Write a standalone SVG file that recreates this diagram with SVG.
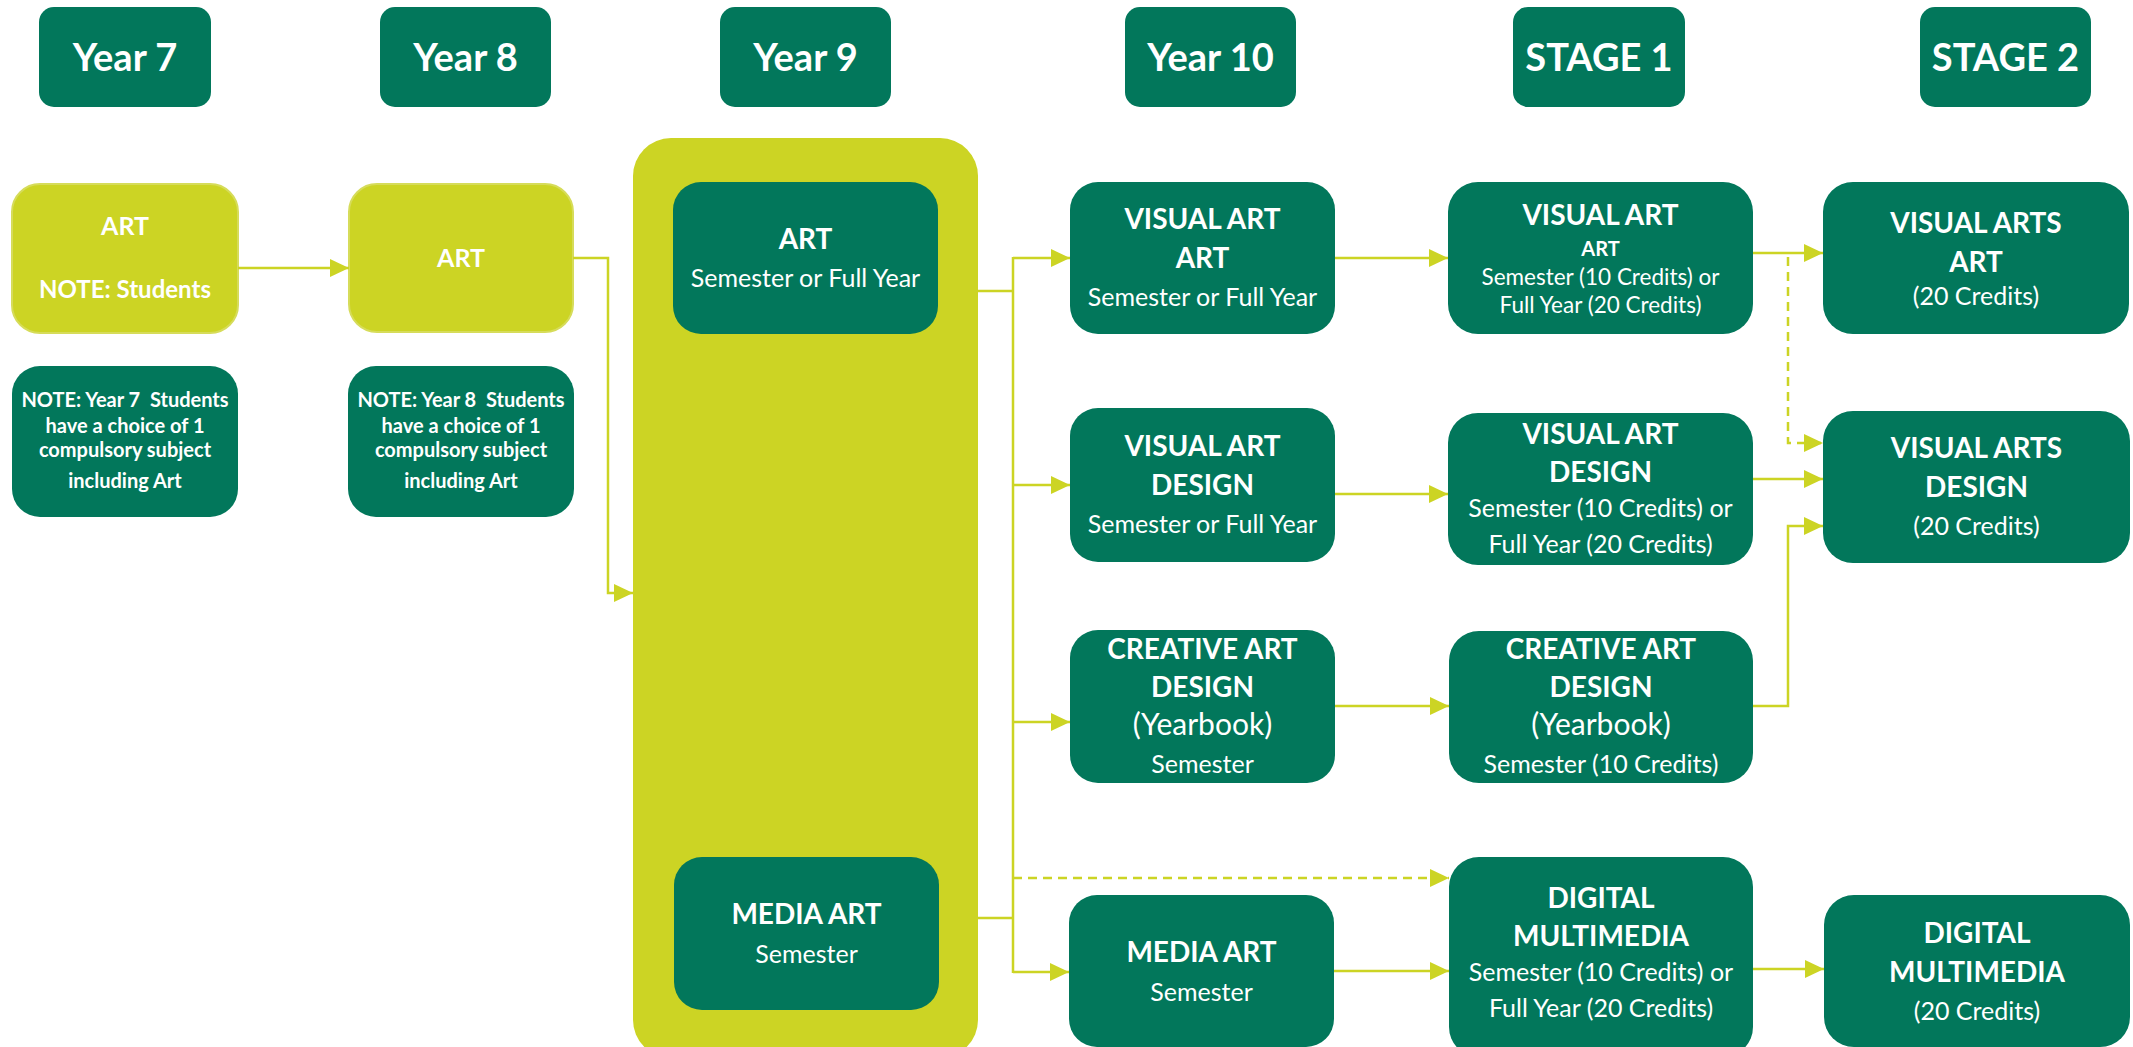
<svg xmlns="http://www.w3.org/2000/svg" width="2133" height="1047" viewBox="0 0 2133 1047">
<defs>
<style>
.g{fill:#02775B}
.l{fill:#CCD424}
.lb{fill:#CCD424;stroke:#D6DC5A;stroke-width:2}
text{font-family:Lato,"Open Sans","Liberation Sans",sans-serif;fill:#FFFFFF;text-anchor:middle}
.h{font-size:38px;font-weight:bold}
.t{font-size:28px;font-weight:bold}
.s{font-size:25px}
.n{font-size:20px;font-weight:bold;white-space:pre}
.c{fill:none;stroke:#CCD424;stroke-width:2.5}
.d{stroke-dasharray:9 6}
</style>
<marker id="a" markerUnits="userSpaceOnUse" markerWidth="20" markerHeight="18" refX="19" refY="9" orient="auto">
<path d="M0,0 L19,9 L0,18 Z" fill="#CCD424"/>
</marker>
</defs>
<rect width="2133" height="1047" fill="#FFFFFF"/>

<g id="headers">
<g id="h-year7"><rect class="g" x="39" y="7" width="172" height="100" rx="15"/><text class="h" x="125" y="71">Year 7</text></g>
<g id="h-year8"><rect class="g" x="380" y="7" width="171" height="100" rx="15"/><text class="h" x="465.5" y="71">Year 8</text></g>
<g id="h-year9"><rect class="g" x="720" y="7" width="171" height="100" rx="15"/><text class="h" x="805.5" y="71">Year 9</text></g>
<g id="h-year10"><rect class="g" x="1125" y="7" width="171" height="100" rx="15"/><text class="h" x="1210.5" y="71">Year 10</text></g>
<g id="h-stage1"><rect class="g" x="1513" y="7" width="172" height="100" rx="15"/><text class="h" x="1599" y="71">STAGE 1</text></g>
<g id="h-stage2"><rect class="g" x="1920" y="7" width="171" height="100" rx="15"/><text class="h" x="2005.5" y="71">STAGE 2</text></g>
</g>

<g id="y7-art"><rect class="lb" x="12" y="184" width="226" height="149" rx="28"/><text class="t" style="font-size:25px" x="125" y="235">ART</text><text class="t" style="font-size:24px" x="125" y="298">NOTE: Students</text></g>
<g id="y7-note"><rect class="g" x="12" y="366" width="226" height="151" rx="28"/>
<text class="n" x="125" y="407" xml:space="preserve">NOTE: Year 7  Students</text><text class="n" x="125" y="433">have a choice of 1</text><text class="n" x="125" y="457">compulsory subject</text><text class="n" x="125" y="488">including Art</text></g>

<g id="y8-art"><rect class="lb" x="349" y="184" width="224" height="148" rx="28"/><text class="t" style="font-size:25px" x="461" y="267">ART</text></g>
<g id="y8-note"><rect class="g" x="348" y="366" width="226" height="151" rx="28"/>
<text class="n" x="461" y="407" xml:space="preserve">NOTE: Year 8  Students</text><text class="n" x="461" y="433">have a choice of 1</text><text class="n" x="461" y="457">compulsory subject</text><text class="n" x="461" y="488">including Art</text></g>

<g id="y9-group"><rect class="l" x="633" y="138" width="345" height="920" rx="38"/></g>
<g id="y9-art"><rect class="g" x="673" y="182" width="265" height="152" rx="28"/><text class="t" x="805.5" y="249">ART</text><text class="s" x="805.5" y="287">Semester or Full Year</text></g>
<g id="y9-media"><rect class="g" x="674" y="857" width="265" height="153" rx="28"/><text class="t" x="806.5" y="924">MEDIA ART</text><text class="s" x="806.5" y="963">Semester</text></g>

<g id="y10-va-art"><rect class="g" x="1070" y="182" width="265" height="152" rx="28"/><text class="t" x="1202.5" y="229">VISUAL ART</text><text class="t" x="1202.5" y="268">ART</text><text class="s" x="1202.5" y="306">Semester or Full Year</text></g>
<g id="y10-va-design"><rect class="g" x="1070" y="408" width="265" height="154" rx="28"/><text class="t" x="1202.5" y="456">VISUAL ART</text><text class="t" x="1202.5" y="495">DESIGN</text><text class="s" x="1202.5" y="533">Semester or Full Year</text></g>
<g id="y10-creative"><rect class="g" x="1070" y="630" width="265" height="153" rx="28"/><text class="t" x="1202.5" y="659">CREATIVE ART</text><text class="t" x="1202.5" y="697">DESIGN</text><text class="s" style="font-size:30px" x="1202.5" y="735">(Yearbook)</text><text class="s" x="1202.5" y="773">Semester</text></g>
<g id="y10-media"><rect class="g" x="1069" y="895" width="265" height="152" rx="28"/><text class="t" x="1201.5" y="962">MEDIA ART</text><text class="s" x="1201.5" y="1001">Semester</text></g>

<g id="s1-va-art"><rect class="g" x="1448" y="182" width="305" height="152" rx="30"/><text class="t" x="1600.5" y="225">VISUAL ART</text><text class="t" style="font-size:20px" x="1600.5" y="256">ART</text><text class="s" style="font-size:22.5px" x="1600.5" y="285">Semester (10 Credits) or</text><text class="s" style="font-size:22.5px" x="1600.5" y="313">Full Year (20 Credits)</text></g>
<g id="s1-va-design"><rect class="g" x="1448" y="413" width="305" height="152" rx="30"/><text class="t" x="1600.5" y="444">VISUAL ART</text><text class="t" x="1600.5" y="482">DESIGN</text><text class="s" x="1600.5" y="517">Semester (10 Credits) or</text><text class="s" x="1600.5" y="553">Full Year (20 Credits)</text></g>
<g id="s1-creative"><rect class="g" x="1449" y="631" width="304" height="152" rx="30"/><text class="t" x="1601" y="659">CREATIVE ART</text><text class="t" x="1601" y="697">DESIGN</text><text class="s" style="font-size:30px" x="1601" y="735">(Yearbook)</text><text class="s" x="1601" y="773">Semester (10 Credits)</text></g>
<g id="s1-digital"><rect class="g" x="1449" y="857" width="304" height="200" rx="30"/><text class="t" x="1601" y="908">DIGITAL</text><text class="t" x="1601" y="946">MULTIMEDIA</text><text class="s" x="1601" y="981">Semester (10 Credits) or</text><text class="s" x="1601" y="1017">Full Year (20 Credits)</text></g>

<g id="s2-va-art"><rect class="g" x="1823" y="182" width="306" height="152" rx="30"/><text class="t" x="1976" y="233">VISUAL ARTS</text><text class="t" x="1976" y="272">ART</text><text class="s" x="1976" y="305">(20 Credits)</text></g>
<g id="s2-va-design"><rect class="g" x="1823" y="411" width="307" height="152" rx="30"/><text class="t" x="1976.5" y="458">VISUAL ARTS</text><text class="t" x="1976.5" y="497">DESIGN</text><text class="s" x="1976.5" y="535">(20 Credits)</text></g>
<g id="s2-digital"><rect class="g" x="1824" y="895" width="306" height="152" rx="30"/><text class="t" x="1977" y="943">DIGITAL</text><text class="t" x="1977" y="982">MULTIMEDIA</text><text class="s" x="1977" y="1020">(20 Credits)</text></g>

<g id="connectors">
<path class="c" d="M238,268 H349" marker-end="url(#a)"/>
<path class="c" d="M573,258 H608 V593 H633" marker-end="url(#a)"/>
<path class="c" d="M978,291 H1013"/>
<path class="c" d="M978,918 H1013"/>
<path class="c" d="M1013,257 V973"/>
<path class="c" d="M1013,258 H1070" marker-end="url(#a)"/>
<path class="c" d="M1013,485 H1070" marker-end="url(#a)"/>
<path class="c" d="M1013,722 H1070" marker-end="url(#a)"/>
<path class="c" d="M1013,972 H1069" marker-end="url(#a)"/>
<path class="c d" d="M1013,878 H1449" marker-end="url(#a)"/>
<path class="c" d="M1335,258 H1448" marker-end="url(#a)"/>
<path class="c" d="M1335,494 H1448" marker-end="url(#a)"/>
<path class="c" d="M1335,706 H1449" marker-end="url(#a)"/>
<path class="c" d="M1334,971 H1449" marker-end="url(#a)"/>
<path class="c" d="M1753,253 H1823" marker-end="url(#a)"/>
<path class="c d" d="M1788,257 V443 H1823" marker-end="url(#a)"/>
<path class="c" d="M1753,479 H1823" marker-end="url(#a)"/>
<path class="c" d="M1753,706 H1788 V526 H1823" marker-end="url(#a)"/>
<path class="c" d="M1753,969 H1824" marker-end="url(#a)"/>
</g>
</svg>
